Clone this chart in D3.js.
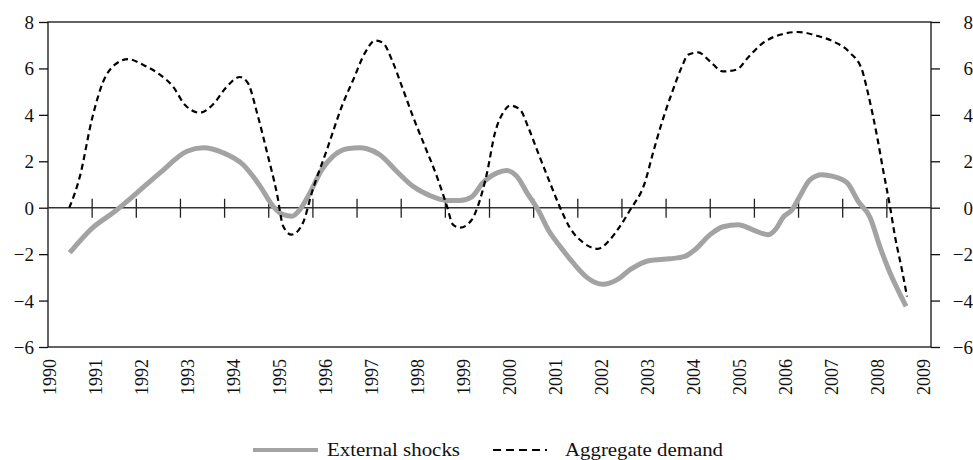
<!DOCTYPE html>
<html>
<head>
<meta charset="utf-8">
<script src="https://cdn.jsdelivr.net/npm/d3@7/dist/d3.min.js"></script>
<style>
  html, body { margin: 0; padding: 0; background: #fff; }
  svg { display: block; }
  text { font-family: "Liberation Serif", "Times New Roman", Times, serif; fill: #111; }
</style>
</head>
<body>
<svg id="chart" width="973" height="460"></svg>
<script>
// ---- data ----
const yearLabels = d3.range(1990, 2010);
const yTicks = [-6, -4, -2, 0, 2, 4, 6, 8];

const demandYears = [1990.42,1990.65,1990.91,1991.15,1991.41,1991.70,1992.02,1992.39,1992.67,1992.93,1993.26,1993.54,1993.85,1994.13,1994.30,1994.50,1994.72,1994.93,1995.07,1995.25,1995.50,1995.70,1996.02,1996.37,1996.59,1996.85,1997.07,1997.24,1997.43,1997.65,1997.89,1998.15,1998.41,1998.63,1998.76,1998.91,1999.17,1999.30,1999.50,1999.67,1999.85,2000.00,2000.22,2000.39,2000.61,2000.87,2001.09,2001.30,2001.59,2001.91,2002.17,2002.39,2002.61,2002.93,2003.11,2003.30,2003.52,2003.74,2003.87,2004.09,2004.35,2004.63,2004.93,2005.17,2005.50,2005.87,2006.26,2006.67,2007.02,2007.39,2007.65,2007.78,2007.98,2008.11,2008.26,2008.37,2008.52,2008.63];
const demandValues = [0,1.35,3.8,5.4,6.16,6.4,6.16,5.73,5.23,4.44,4.09,4.44,5.23,5.63,5.38,4.09,2.37,0.64,-0.8,-1.16,-0.65,0.7,2.5,4.5,5.5,6.68,7.2,7.1,6.38,5.23,3.93,2.64,1.35,0.06,-0.73,-0.86,-0.52,0.06,1.5,3.2,4.09,4.4,4.22,3.5,2.37,1.07,0,-0.86,-1.5,-1.77,-1.38,-0.8,-0.1,1.07,2.37,3.66,4.95,6.09,6.59,6.69,6.3,5.87,5.95,6.46,7.1,7.45,7.57,7.41,7.17,6.68,5.95,4.95,3.07,1.64,0.06,-1.24,-2.67,-3.82];

const shockYears = [1990.43,1990.93,1991.37,1991.89,1992.39,1992.98,1993.33,1993.76,1994.20,1994.57,1994.85,1995.07,1995.26,1995.43,1995.65,1995.91,1996.15,1996.46,1996.74,1996.89,1997.17,1997.54,1997.89,1998.26,1998.63,1998.91,1999.17,1999.41,1999.72,1999.93,2000.15,2000.37,2000.61,2000.83,2001.09,2001.37,2001.67,2002.02,2002.33,2002.61,2003.04,2003.48,2003.80,2004.02,2004.35,2004.63,2004.96,2005.28,2005.61,2005.80,2005.93,2006.13,2006.30,2006.52,2006.78,2007.02,2007.33,2007.57,2007.83,2008.04,2008.26,2008.43,2008.61];
const shockValues = [-1.94,-0.86,-0.22,0.64,1.5,2.43,2.58,2.37,1.85,0.92,0.06,-0.3,-0.37,-0.09,0.64,1.64,2.21,2.54,2.58,2.54,2.28,1.56,0.92,0.52,0.31,0.31,0.47,1.07,1.5,1.6,1.35,0.64,-0.09,-0.95,-1.67,-2.37,-3.0,-3.3,-3.1,-2.67,-2.27,-2.2,-2.1,-1.81,-1.16,-0.82,-0.73,-0.95,-1.16,-0.86,-0.43,-0.09,0.49,1.2,1.42,1.35,1.07,0.27,-0.43,-1.67,-2.8,-3.53,-4.25];

const seriesNames = ["External shocks", "Aggregate demand"];
const tickCount = 20;

// ---- layout ----
const svg = d3.select("#chart");
const plotL = 48, plotR = 931, plotT = 22, plotB = 347;

const x = d3.scaleLinear().domain([1990, 2009]).range([50, 924]);
const xt = d3.scaleLinear().domain([0, tickCount]).range([plotL, plotR]);
const y = d3.scaleLinear().domain([-6, 8]).range([plotB, plotT]);

const fmt = d => d3.format("d")(d).replace("-", "\u2212");

// left axis
const gl = svg.append("g").attr("transform", `translate(${plotL},0)`)
  .call(d3.axisLeft(y).tickValues(yTicks).tickSize(9).tickPadding(5).tickFormat(fmt));
gl.select(".domain").remove();
gl.selectAll("line").attr("stroke", "#111").attr("stroke-width", 1.3);
gl.selectAll("text").style("font-size", "19px").attr("fill", "#111").attr("dy", "0.34em");

// right axis
const gr = svg.append("g").attr("transform", `translate(${plotR},0)`)
  .call(d3.axisRight(y).tickValues(yTicks).tickSize(9).tickFormat(fmt));
gr.select(".domain").remove();
gr.selectAll("line").attr("stroke", "#111").attr("stroke-width", 1.3);
gr.selectAll("text").style("font-size", "19px").attr("fill", "#111")
  .attr("text-anchor", "end").attr("x", 42).attr("dy", "0.34em");

// frame
svg.append("rect").attr("x", plotL).attr("y", plotT)
  .attr("width", plotR - plotL).attr("height", plotB - plotT)
  .attr("fill", "none").attr("stroke", "#111").attr("stroke-width", 1.3);

// zero line + cross ticks
svg.append("line").attr("x1", plotL).attr("x2", plotR)
  .attr("y1", y(0)).attr("y2", y(0)).attr("stroke", "#333").attr("stroke-width", 1.5);
svg.append("g").selectAll("line").data(d3.range(1, tickCount)).join("line")
  .attr("x1", d => xt(d)).attr("x2", d => xt(d))
  .attr("y1", y(0) - 9).attr("y2", y(0) + 10)
  .attr("stroke", "#222").attr("stroke-width", 1.3);

// x labels
svg.append("g").selectAll("text").data(yearLabels).join("text")
  .attr("transform", d => `translate(${x(d)},${359}) rotate(-90)`)
  .attr("text-anchor", "end").attr("dy", "0.35em")
  .style("font-size", "18px")
  .text(d => d);

// lines
const line = d3.line().curve(d3.curveMonotoneX).x(d => x(d[0])).y(d => y(d[1]));
const shock = d3.zip(shockYears, shockValues);
const demand = d3.zip(demandYears, demandValues);

svg.append("path").datum(shock).attr("d", line)
  .attr("fill", "none").attr("stroke", "#a3a3a3").attr("stroke-width", 5)
  .attr("stroke-linejoin", "round");
svg.append("path").datum(demand).attr("d", line)
  .attr("fill", "none").attr("stroke", "#000").attr("stroke-width", 2.2)
  .attr("stroke-dasharray", "6,4");

// legend
const lg = svg.append("g");
lg.append("line").attr("x1", 253).attr("x2", 318).attr("y1", 450).attr("y2", 450)
  .attr("stroke", "#a3a3a3").attr("stroke-width", 4);
lg.append("text").attr("x", 327).attr("y", 456).style("font-size", "19px")
  .attr("textLength", 133).attr("lengthAdjust", "spacingAndGlyphs").text(seriesNames[0]);
lg.append("line").attr("x1", 493).attr("x2", 547).attr("y1", 450).attr("y2", 450)
  .attr("stroke", "#000").attr("stroke-width", 2.2).attr("stroke-dasharray", "8,5");
lg.append("text").attr("x", 565).attr("y", 456).style("font-size", "19px")
  .attr("textLength", 158).attr("lengthAdjust", "spacingAndGlyphs").text(seriesNames[1]);
</script>
</body>
</html>
